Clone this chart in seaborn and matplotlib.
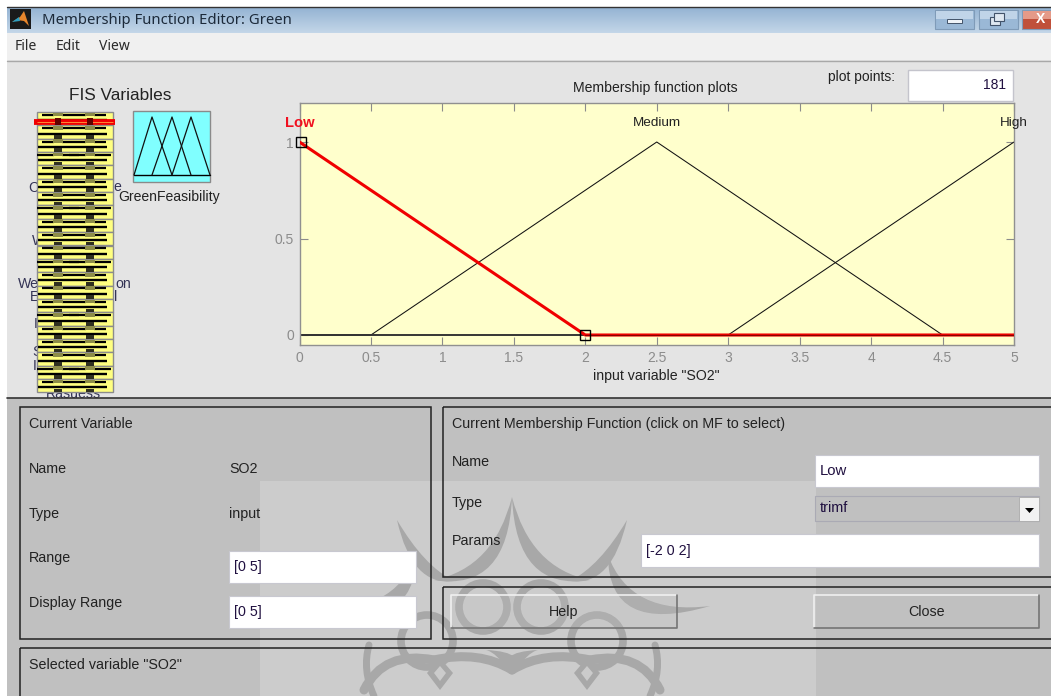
import matplotlib
matplotlib.use("Agg")
import matplotlib.pyplot as plt
from matplotlib.patches import Rectangle, PathPatch, Circle, Polygon
from matplotlib.path import Path
import numpy as np
import pandas as pd
import seaborn as sns

# membership functions of input variable SO2
low_x = [0, 2, 5]
low_y = [1, 0, 0]
medium_x = [0, 0.5, 2.5, 4.5, 5]
medium_y = [0, 0, 1, 0, 0]
high_x = [0, 3, 5]
high_y = [0, 0, 1]

x_ticks = [0, 0.5, 1, 1.5, 2, 2.5, 3, 3.5, 4, 4.5, 5]
x_labels = ["0", "0.5", "1", "1.5", "2", "2.5", "3", "3.5", "4", "4.5", "5"]
y_ticks = [0, 0.5, 1]
y_labels = ["0", "0.5", "1"]

W, H = 1051, 696
sns.set_theme(style="white")
plt.rcParams["font.family"] = ["Liberation Sans", "DejaVu Sans"]

fig = plt.figure(figsize=(W / 100, H / 100), dpi=100)
ui = fig.add_axes([0, 0, 1, 1])
ui.set_xlim(0, W)
ui.set_ylim(H, 0)
ui.axis("off")


def box(x, y, w, h, fc, ec="none", lw=0.0, z=1, alpha=None):
    ui.add_patch(Rectangle((x, y), w, h, fc=fc, ec=ec, lw=lw, zorder=z, alpha=alpha))


def label(x, y, s, size=10.3, color="#222222", ha="left", z=8, **kw):
    ui.text(x, y + 1, s, fontsize=size, color=color, ha=ha, va="center", zorder=z, **kw)


# window chrome
box(7, 7, W, H, "#e4e4e4")
ui.imshow(np.linspace(0, 1, 26)[:, None], extent=(7, W, 33, 7), aspect="auto", zorder=2,
          cmap=matplotlib.colors.LinearSegmentedColormap.from_list("bar", ["#94b3d3", "#c3d6e8"]))
ui.set_xlim(0, W)
ui.set_ylim(H, 0)
ui.plot([7, W], [6.5, 6.5], color="#333333", lw=1, zorder=3)
box(7, 33, W, 27, "#f0f0f0", z=2)
ui.plot([7, W], [60.5, 60.5], color="#a8a8a8", lw=1, zorder=3)
box(10, 9, 21, 20, "#1a1a1a", z=3)
ui.add_patch(Polygon([[12, 22], [20, 17], [24, 11], [29, 26], [24, 21], [17, 20]], fc="#e8862c", ec="none", zorder=4))
ui.add_patch(Polygon([[12, 22], [19, 17], [20, 21]], fc="#2f9fc0", ec="none", zorder=5))
label(42, 19, "Membership Function Editor: Green", size=10.7, family="Noto Sans", color="#1c2a3a", z=5)
for mx, name in [(15, "File"), (56, "Edit"), (99, "View")]:
    label(mx, 46, name, size=10.0, family="Noto Sans", color="#2a2a2a", z=5)

# window buttons
for bx, bw, top, bot in [(935, 39, "#c0d4e8", "#9ab8d6"), (979, 39, "#c0d4e8", "#9ab8d6"), (1022, 32, "#e59a88", "#c0503a")]:
    box(bx, 10, bw, 19, bot, ec="#7f9bb8", lw=0.8, z=3)
    box(bx + 1, 11, bw - 2, 8, top, z=4)
box(947, 19, 15, 4, "#eef3f8", ec="#42536a", lw=0.7, z=5)
box(990, 17, 10, 8, "#dfe8f1", ec="#42536a", lw=0.8, z=5)
box(994, 13, 10, 8, "#dfe8f1", ec="#42536a", lw=0.8, z=6)
label(1040, 18, "X", size=10, color="white", ha="center", z=6, weight="bold")

# FIS variables column, the names are hidden behind the icon stack
label(120, 94, "FIS Variables", size=12.4, ha="center", z=1.5)
for tx, ty, s in [(28, 187, "C"), (113, 186, "e"), (32, 240, "W"), (18, 283, "We"), (115, 283, "on"),
                  (30, 296, "E"), (114, 296, "l"), (34, 323, "I"), (32, 351, "S"), (33, 365, "I")]:
    label(tx, ty, s, size=10.2, color="#333355", z=1.5)
label(73, 393, "Rasuess", size=10.2, ha="center", color="#333355", z=1.5)

# squeezed input icons
row_h = 13.35
for i, ty in enumerate(np.arange(0, 21) * row_h + 112):
    box(37, ty, 76, row_h, "#ffff80", ec="#8c8c8c", lw=1.0, z=4)
    base = ty + row_h * 0.62
    top = ty + row_h * 0.22
    ui.plot([38, 107], [base, base], color="black", lw=1.7, zorder=5, solid_capstyle="butt")
    for col in (58, 90):
        wide = 15 if i % 4 == 3 else 10
        ui.plot([col - wide - 6, col - 4], [top, top], color="black", lw=1.6, zorder=5, solid_capstyle="butt")
        ui.plot([col + 4, col + wide + 6], [top, top], color="black", lw=1.6, zorder=5, solid_capstyle="butt")
        box(col - 5, ty + row_h * 0.05, 10, row_h * 0.28, "#8c8c48", z=5)
        box(col - 4, ty + row_h * 0.72, 8, row_h * 0.28, "#303020", z=5)
ui.plot([34, 115], [121.5, 121.5], color="#f00000", lw=4.2, zorder=6, solid_capstyle="butt")
ui.plot([37, 113], [121.5, 121.5], color="#ffa040", lw=0.6, zorder=7, solid_capstyle="butt")
for col in (58, 90):
    box(col - 3, 118, 6, 7, "#600000", z=8)

# output icon
box(133, 111, 77, 71, "#80ffff", ec="#8a8a8a", lw=1.0, z=3)
ui.plot([134, 210], [175, 175], color="black", lw=1, zorder=4)
for a, b, c in [(134, 152, 172), (152, 172, 191), (172, 191, 210)]:
    ui.plot([a, b, c], [175, 117, 175], color="#111111", lw=0.9, zorder=4)
label(169, 196, "GreenFeasibility", size=10.1, ha="center", z=3)

# plot header
label(655, 87, "Membership function plots", size=10.1, ha="center", z=3)
label(895, 76, "plot points:", size=10.0, ha="right", z=3)
box(908, 70, 105, 31, "white", ec="#c4c4cc", lw=1, z=3)
label(1006, 84, "181", size=10, ha="right", color="#201040", z=4)
label(656, 375, 'input variable "SO2"', size=10.2, ha="center", z=3)

# lower panel
box(7, 398, W, H, "#c0c0c0", z=2)
ui.plot([7, W], [397.5, 397.5], color="#333333", lw=1.2, zorder=3)

# watermark, lighter square with a grey ornament symmetric around x=512
box(260, 481, 556, 215, "white", z=3, alpha=0.2)
mark = "#a8a8a8"
CENTRE = 512


def crescent(outer, inner, z=3, fc=mark, alpha=None):
    # outer and inner are (start, control, end) sharing both tips
    verts = list(outer) + [inner[1], inner[0]]
    codes = [Path.MOVETO, Path.CURVE3, Path.CURVE3, Path.CURVE3, Path.CURVE3]
    for flip in (False, True):
        pts = [(2 * CENTRE - x, y) if flip else (x, y) for x, y in verts]
        ui.add_patch(PathPatch(Path(pts, codes), fc=fc, ec="none", zorder=z, alpha=alpha))


def stroke(pts, lw=4.5):
    codes = [Path.MOVETO, Path.CURVE3, Path.CURVE3]
    for flip in (False, True):
        p = [(2 * CENTRE - x, y) if flip else (x, y) for x, y in pts]
        ui.add_patch(PathPatch(Path(p, codes), fc="none", ec=mark, lw=lw, zorder=3, capstyle="round"))


# upper crescents from the three top spikes
crescent([(512, 497), (516, 592), (590, 580)], [(512, 497), (530, 568), (590, 568)])
crescent([(627, 520), (612, 587), (570, 581)], [(627, 520), (600, 566), (570, 568)])
# side crescents
crescent([(608, 555), (608, 636), (710, 606)], [(608, 555), (630, 616), (710, 606)])
# rings
for cx, cy, r in [(483, 607, 24), (541, 607, 24), (597, 641, 26), (427, 641, 26)]:
    ui.add_patch(Circle((cx, cy), r, fc="none", ec=mark, lw=5.5, zorder=3))
# lower flower band
stroke([(512, 670), (545, 650), (590, 660)], 6.5)
stroke([(590, 660), (640, 650), (660, 690)], 6.5)
stroke([(655, 645), (662, 670), (650, 696)], 5)
crescent([(512, 674), (496, 652), (486, 650)], [(512, 674), (530, 652), (538, 650)])
for dx in (440, 587):
    ui.add_patch(Polygon([[dx - 13, 673], [dx, 658], [dx + 13, 673], [dx, 690]], fc=mark, ec="none", zorder=3))
    ui.add_patch(Polygon([[dx - 6, 673], [dx, 666], [dx + 6, 673], [dx, 681]], fc="#cbcbcb", ec="none", zorder=3))

# frames of the lower panel, drawn over the watermark
for fx, fy, fw, fh in [(20, 407, 411, 232), (443, 407, 620, 170), (443, 587, 620, 52), (20, 648, 1043, 60)]:
    ui.add_patch(Rectangle((fx, fy), fw, fh, fc="none", ec="#222222", lw=1.1, zorder=5))

label(29, 423, "Current Variable", size=10.3)
label(29, 468, "Name", size=10.3)
label(229, 468, "SO2", size=10.3)
label(29, 513, "Type", size=10.3)
label(229, 513, "input", size=10.3)
label(29, 557, "Range", size=10.3)
label(29, 602, "Display Range", size=10.3)
label(29, 664, 'Selected variable "SO2"', size=10.3)
for fy in (551, 596):
    box(229, fy, 187, 32, "white", ec="#c8c8d0", lw=0.8, z=6)
    label(234, fy + 15, "[0 5]", size=10.3, color="#201040")

label(452, 423, "Current Membership Function (click on MF to select)", size=10.25)
label(452, 461, "Name", size=10.3)
label(452, 502, "Type", size=10.3)
label(452, 540, "Params", size=10.3)
box(815, 455, 224, 32, "white", ec="#c8c8d0", lw=0.8, z=6)
label(820, 470, "Low", size=10.7, color="#201040")
box(815, 496, 224, 25, "#c0c0c0", ec="#aaaab4", lw=0.8, z=6)
label(820, 507, "trimf", size=10.4, color="#201040")
box(1019, 497, 20, 24, "#f2f2f2", ec="#aaaaaa", lw=0.6, z=7)
ui.add_patch(Polygon([[1025, 508], [1034, 508], [1029.5, 513]], fc="black", ec="none", zorder=8))
box(641, 534, 398, 33, "white", ec="#c8c8d0", lw=0.8, z=6)
label(646, 550, "[-2 0 2]", size=10.3, color="#201040")
for bx, bw, name in [(451, 226, "Help"), (814, 225, "Close")]:
    box(bx, 595, bw, 33, "#c0c0c0", z=4, alpha=0.25)
    ui.plot([bx, bx, bx + bw], [628, 595, 595], color="#f0f0f0", lw=1.2, zorder=7)
    ui.plot([bx, bx + bw, bx + bw], [628, 628, 595], color="#757575", lw=1.2, zorder=7)
    label(bx + bw / 2, 611, name, size=10.3, ha="center")

# membership plot
ax = fig.add_axes([299.5 / W, 1 - 345 / H, 714.5 / W, 242 / H], zorder=3)
ax.set_facecolor("#ffffcc")
medium = pd.DataFrame({"x": medium_x, "y": medium_y})
high = pd.DataFrame({"x": high_x, "y": high_y})
low = pd.DataFrame({"x": low_x, "y": low_y})
sns.lineplot(data=medium, x="x", y="y", ax=ax, color="#111111", lw=0.75, errorbar=None)
sns.lineplot(data=high, x="x", y="y", ax=ax, color="#111111", lw=0.75, errorbar=None)
ax.axhline(0, xmin=0, xmax=1, color="#333333", lw=1.3, zorder=2)
sns.lineplot(data=low, x="x", y="y", ax=ax, color="#f00000", lw=2.2, errorbar=None, zorder=4)
ax.plot(low_x[1:], low_y[1:], color="#600000", lw=0.8, alpha=0.7, zorder=5)
ax.plot([0.01, low_x[1]], low_y[:2], color="none", marker="s", ms=6.5, mfc="none", mec="black", mew=1, zorder=6, clip_on=False)
ax.set_xlim(0, 5)
ax.set_ylim(-10 / 193, 232 / 193)
ax.set_xticks(x_ticks, x_labels)
ax.set_yticks(y_ticks, y_labels)
ax.tick_params(axis="both", direction="in", length=5.5, width=0.8, color="#8c8c8c", labelcolor="#8c8c8c",
               labelsize=10, top=True, right=True, bottom=True, left=True, pad=4)
ax.set_xlabel("")
ax.set_ylabel("")
for s in ax.spines.values():
    s.set_color("#909090")
    s.set_linewidth(1.0)
ax.text(0, 1.10, "Low", color="#f01020", fontsize=10.6, weight="bold", ha="center", va="center", clip_on=False)
ax.text(2.5, 1.10, "Medium", color="#222222", fontsize=9.7, ha="center", va="center", clip_on=False)
ax.text(5, 1.10, "High", color="#222222", fontsize=9.7, ha="center", va="center", clip_on=False)

fig.savefig("out.png", dpi=100, facecolor="white")
plt.close(fig)
